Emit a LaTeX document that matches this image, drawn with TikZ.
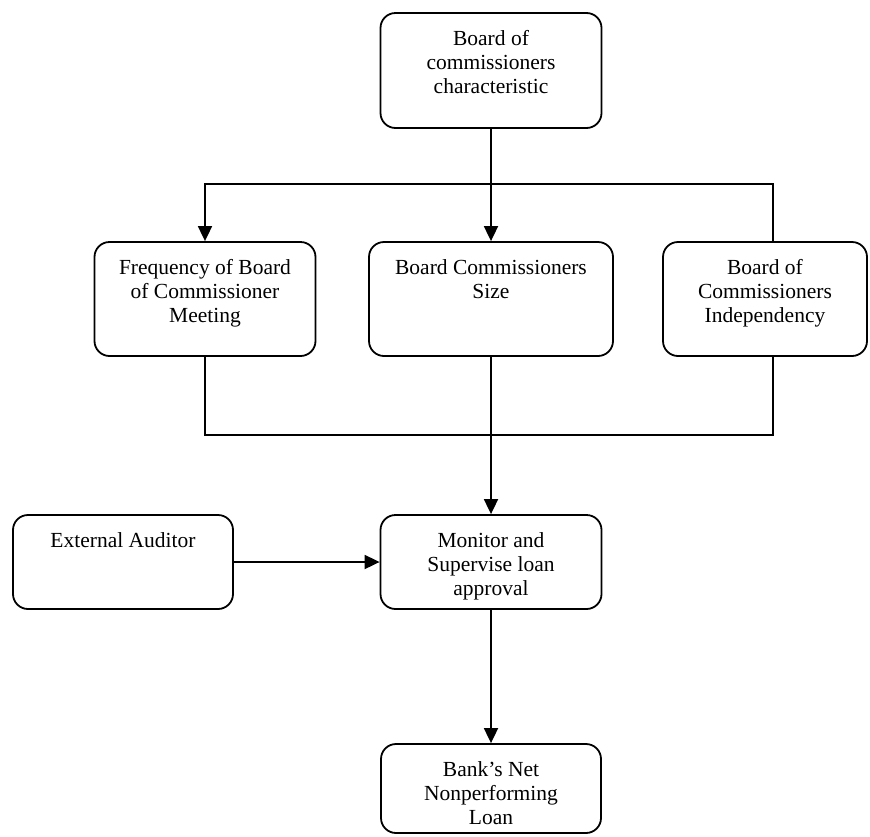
\documentclass[tikz,border=0pt]{standalone}
\usepackage{fontspec}
\setmainfont{Liberation Serif}
\usetikzlibrary{arrows.meta}
\newcommand{\bx}[3]{\parbox[c][#2pt][t]{#1pt}{\centering\rule{0pt}{32pt}#3}}
\begin{document}
\begin{tikzpicture}[x=1pt,y=-1pt,
  box/.style={draw, line width=1.8pt, rounded corners=15pt, inner sep=0pt, font=\fontsize{21.5}{24}\selectfont},
  line/.style={line width=1.8pt, line cap=rect},
  arr/.style={line width=1.8pt, -{Triangle[length=15pt,width=14pt]}}]
\useasboundingbox (0,0) rectangle (870,836);

\node[box] (top)   at (491,70.5)   {\bx{221}{115}{Board of\\commissioners\\characteristic}};
\node[box] (left)  at (205,299)    {\bx{221}{114}{Frequency of Board\\of Commissioner\\Meeting}};
\node[box] (mid)   at (491,299)    {\bx{244}{114}{Board Commissioners\\Size}};
\node[box] (right) at (765,299)    {\bx{204}{114}{Board of\\Commissioners\\Independency}};
\node[box] (ext)   at (123,562)    {\bx{220}{94}{External Auditor}};
\node[box] (mon)   at (491,562)    {\bx{221}{94}{Monitor and\\Supervise loan\\approval}};
\node[box] (bank)  at (491,788.5)  {\bx{220}{89}{Bank's Net\\Nonperforming\\Loan}};

\coordinate (ja) at (491,184);
\coordinate (jl) at (205,184);
\coordinate (jr) at (773,184);
\coordinate (kl) at (205,435);
\coordinate (km) at (491,435);
\coordinate (kr) at (773,435);

\draw[line] (top.south) -- (ja);
\draw[line] (jr |- right.north) -- (jr) -- (jl);
\draw[arr] (jl) -- (left.north);
\draw[arr] (ja) -- (mid.north);

\draw[line] (left.south) -- (kl) -- (kr) -- (kr |- right.south);
\draw[line] (mid.south) -- (km);
\draw[arr] (km) -- (mon.north);

\draw[arr] (ext.east) -- (mon.west);
\draw[arr] (mon.south) -- (bank.north);
\end{tikzpicture}
\end{document}
